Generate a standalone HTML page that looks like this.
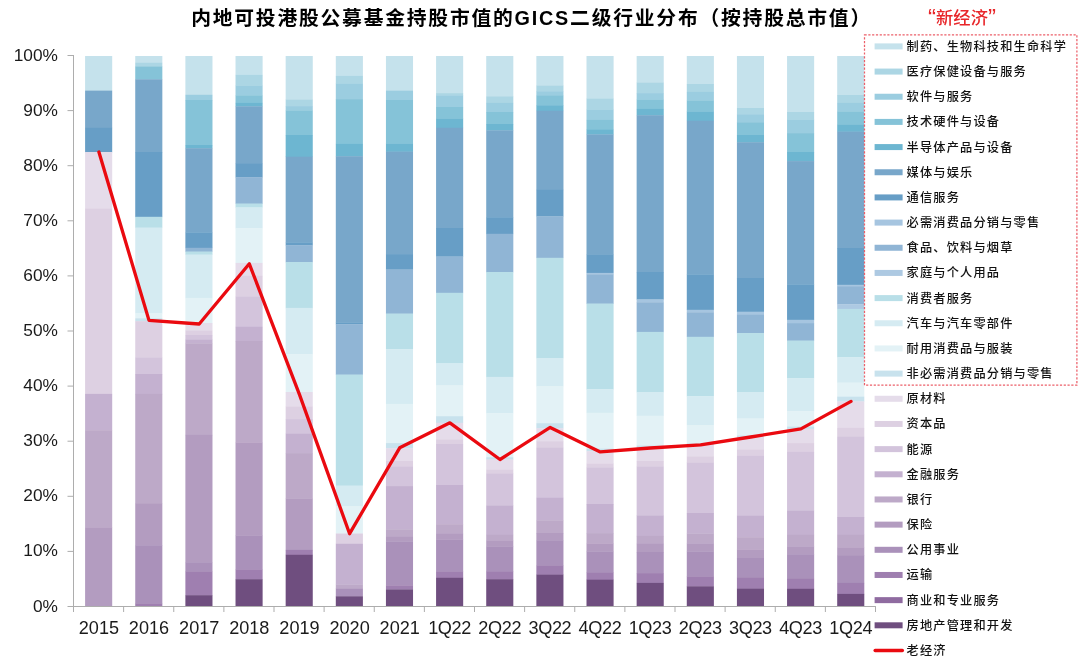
<!DOCTYPE html>
<html lang="zh-CN"><head><meta charset="utf-8">
<title>内地可投港股公募基金持股市值的GICS二级行业分布</title>
<style>
html,body{margin:0;padding:0;background:#fff;}
body{width:1080px;height:663px;overflow:hidden;}
svg{display:block;will-change:transform;}
text{font-family:'Liberation Sans','Noto Sans CJK SC',sans-serif;fill:#111;}
.t{font-size:19.8px;font-weight:bold;fill:#000;letter-spacing:1.78px;}
.ax{font-size:17.3px;fill:#1a1a1a;}
.xl{font-size:18.1px;fill:#1a1a1a;}
.lg{font-size:12.2px;font-weight:500;fill:#111;letter-spacing:1.2px;}
.ne{font-size:17.3px;font-weight:500;fill:#e8262a;}
</style></head><body>
<svg width="1080" height="663" viewBox="0 0 1080 663">
<text class="t" x="191.2" y="24.6">内地可投港股公募基金持股市值的GICS二级行业分布（按持股总市值）</text>
<g>
<rect x="85.10" y="56.00" width="27.10" height="34.90" fill="#c5e2ec"/>
<rect x="85.10" y="90.60" width="27.10" height="37.50" fill="#78a7ca"/>
<rect x="85.10" y="127.80" width="27.10" height="24.50" fill="#679ec6"/>
<rect x="85.10" y="152.00" width="27.10" height="57.00" fill="#e5dcea"/>
<rect x="85.10" y="208.70" width="27.10" height="185.50" fill="#ddd0e2"/>
<rect x="85.10" y="393.90" width="27.10" height="36.60" fill="#c4b1d0"/>
<rect x="85.10" y="430.20" width="27.10" height="97.70" fill="#bda9c8"/>
<rect x="85.10" y="527.60" width="27.10" height="78.70" fill="#b39cc0"/>
<rect x="135.24" y="56.00" width="27.10" height="7.10" fill="#c5e2ec"/>
<rect x="135.24" y="62.80" width="27.10" height="3.90" fill="#acd6e4"/>
<rect x="135.24" y="66.40" width="27.10" height="13.20" fill="#85c3d8"/>
<rect x="135.24" y="79.30" width="27.10" height="73.00" fill="#78a7ca"/>
<rect x="135.24" y="152.00" width="27.10" height="65.10" fill="#679ec6"/>
<rect x="135.24" y="216.80" width="27.10" height="11.10" fill="#b9dfe8"/>
<rect x="135.24" y="227.60" width="27.10" height="85.70" fill="#d5ebf2"/>
<rect x="135.24" y="313.00" width="27.10" height="5.60" fill="#e3f2f6"/>
<rect x="135.24" y="318.30" width="27.10" height="3.20" fill="#c8e2ed"/>
<rect x="135.24" y="321.20" width="27.10" height="36.70" fill="#ddd0e2"/>
<rect x="135.24" y="357.60" width="27.10" height="16.70" fill="#d3c4dc"/>
<rect x="135.24" y="374.00" width="27.10" height="20.20" fill="#c4b1d0"/>
<rect x="135.24" y="393.90" width="27.10" height="110.10" fill="#bda9c8"/>
<rect x="135.24" y="503.70" width="27.10" height="41.80" fill="#b39cc0"/>
<rect x="135.24" y="545.20" width="27.10" height="58.40" fill="#aa91ba"/>
<rect x="135.24" y="603.30" width="27.10" height="3.00" fill="#9f7fb0"/>
<rect x="185.38" y="56.00" width="27.10" height="39.10" fill="#c5e2ec"/>
<rect x="185.38" y="94.80" width="27.10" height="5.50" fill="#9bcde0"/>
<rect x="185.38" y="100.00" width="27.10" height="45.30" fill="#85c3d8"/>
<rect x="185.38" y="145.00" width="27.10" height="3.50" fill="#6db6d1"/>
<rect x="185.38" y="148.20" width="27.10" height="84.40" fill="#78a7ca"/>
<rect x="185.38" y="232.30" width="27.10" height="15.80" fill="#679ec6"/>
<rect x="185.38" y="247.80" width="27.10" height="4.10" fill="#90b5d5"/>
<rect x="185.38" y="251.60" width="27.10" height="3.30" fill="#b9dfe8"/>
<rect x="185.38" y="254.60" width="27.10" height="43.60" fill="#d5ebf2"/>
<rect x="185.38" y="297.90" width="27.10" height="25.40" fill="#e3f2f6"/>
<rect x="185.38" y="323.00" width="27.10" height="7.90" fill="#e5dcea"/>
<rect x="185.38" y="330.60" width="27.10" height="4.70" fill="#ddd0e2"/>
<rect x="185.38" y="335.00" width="27.10" height="4.80" fill="#d3c4dc"/>
<rect x="185.38" y="339.50" width="27.10" height="4.10" fill="#c4b1d0"/>
<rect x="185.38" y="343.30" width="27.10" height="91.90" fill="#bda9c8"/>
<rect x="185.38" y="434.90" width="27.10" height="127.60" fill="#b39cc0"/>
<rect x="185.38" y="562.20" width="27.10" height="9.70" fill="#aa91ba"/>
<rect x="185.38" y="571.60" width="27.10" height="23.90" fill="#9f7fb0"/>
<rect x="185.38" y="595.20" width="27.10" height="11.10" fill="#6f4e7f"/>
<rect x="235.52" y="56.00" width="27.10" height="19.20" fill="#c5e2ec"/>
<rect x="235.52" y="74.90" width="27.10" height="10.90" fill="#acd6e4"/>
<rect x="235.52" y="85.50" width="27.10" height="10.10" fill="#9bcde0"/>
<rect x="235.52" y="95.30" width="27.10" height="7.90" fill="#85c3d8"/>
<rect x="235.52" y="102.90" width="27.10" height="3.70" fill="#6db6d1"/>
<rect x="235.52" y="106.30" width="27.10" height="57.70" fill="#78a7ca"/>
<rect x="235.52" y="163.70" width="27.10" height="13.80" fill="#679ec6"/>
<rect x="235.52" y="177.20" width="27.10" height="26.70" fill="#90b5d5"/>
<rect x="235.52" y="203.60" width="27.10" height="4.10" fill="#b9dfe8"/>
<rect x="235.52" y="207.40" width="27.10" height="21.10" fill="#d5ebf2"/>
<rect x="235.52" y="228.20" width="27.10" height="35.00" fill="#e3f2f6"/>
<rect x="235.52" y="262.90" width="27.10" height="13.20" fill="#e5dcea"/>
<rect x="235.52" y="275.80" width="27.10" height="21.10" fill="#ddd0e2"/>
<rect x="235.52" y="296.60" width="27.10" height="30.50" fill="#d3c4dc"/>
<rect x="235.52" y="326.80" width="27.10" height="14.50" fill="#c4b1d0"/>
<rect x="235.52" y="341.00" width="27.10" height="101.80" fill="#bda9c8"/>
<rect x="235.52" y="442.50" width="27.10" height="93.10" fill="#b39cc0"/>
<rect x="235.52" y="535.30" width="27.10" height="34.30" fill="#aa91ba"/>
<rect x="235.52" y="569.30" width="27.10" height="10.20" fill="#9f7fb0"/>
<rect x="235.52" y="579.20" width="27.10" height="27.10" fill="#6f4e7f"/>
<rect x="285.66" y="56.00" width="27.10" height="43.80" fill="#c5e2ec"/>
<rect x="285.66" y="99.50" width="27.10" height="6.90" fill="#acd6e4"/>
<rect x="285.66" y="106.10" width="27.10" height="4.60" fill="#9bcde0"/>
<rect x="285.66" y="110.40" width="27.10" height="24.90" fill="#85c3d8"/>
<rect x="285.66" y="135.00" width="27.10" height="22.00" fill="#6db6d1"/>
<rect x="285.66" y="156.70" width="27.10" height="85.90" fill="#78a7ca"/>
<rect x="285.66" y="242.30" width="27.10" height="3.20" fill="#679ec6"/>
<rect x="285.66" y="245.20" width="27.10" height="17.10" fill="#90b5d5"/>
<rect x="285.66" y="262.00" width="27.10" height="46.20" fill="#b9dfe8"/>
<rect x="285.66" y="307.90" width="27.10" height="46.60" fill="#d5ebf2"/>
<rect x="285.66" y="354.20" width="27.10" height="38.10" fill="#e3f2f6"/>
<rect x="285.66" y="392.00" width="27.10" height="15.00" fill="#e5dcea"/>
<rect x="285.66" y="406.70" width="27.10" height="12.70" fill="#ddd0e2"/>
<rect x="285.66" y="419.10" width="27.10" height="14.80" fill="#d3c4dc"/>
<rect x="285.66" y="433.60" width="27.10" height="19.80" fill="#c4b1d0"/>
<rect x="285.66" y="453.10" width="27.10" height="45.60" fill="#bda9c8"/>
<rect x="285.66" y="498.40" width="27.10" height="51.80" fill="#b39cc0"/>
<rect x="285.66" y="549.90" width="27.10" height="5.20" fill="#9f7fb0"/>
<rect x="285.66" y="554.80" width="27.10" height="51.50" fill="#6f4e7f"/>
<rect x="335.80" y="56.00" width="27.10" height="20.20" fill="#c5e2ec"/>
<rect x="335.80" y="75.90" width="27.10" height="8.00" fill="#acd6e4"/>
<rect x="335.80" y="83.60" width="27.10" height="15.80" fill="#9bcde0"/>
<rect x="335.80" y="99.10" width="27.10" height="45.10" fill="#85c3d8"/>
<rect x="335.80" y="143.90" width="27.10" height="12.60" fill="#6db6d1"/>
<rect x="335.80" y="156.20" width="27.10" height="166.60" fill="#78a7ca"/>
<rect x="335.80" y="322.50" width="27.10" height="2.00" fill="#679ec6"/>
<rect x="335.80" y="324.20" width="27.10" height="50.70" fill="#90b5d5"/>
<rect x="335.80" y="374.60" width="27.10" height="111.30" fill="#b9dfe8"/>
<rect x="335.80" y="485.60" width="27.10" height="21.00" fill="#d5ebf2"/>
<rect x="335.80" y="506.30" width="27.10" height="27.50" fill="#e3f2f6"/>
<rect x="335.80" y="533.50" width="27.10" height="10.60" fill="#ddd0e2"/>
<rect x="335.80" y="543.80" width="27.10" height="40.90" fill="#c4b1d0"/>
<rect x="335.80" y="584.40" width="27.10" height="4.50" fill="#bda9c8"/>
<rect x="335.80" y="588.60" width="27.10" height="8.00" fill="#aa91ba"/>
<rect x="335.80" y="596.30" width="27.10" height="10.00" fill="#6f4e7f"/>
<rect x="385.94" y="56.00" width="27.10" height="34.90" fill="#c5e2ec"/>
<rect x="385.94" y="90.60" width="27.10" height="9.70" fill="#9bcde0"/>
<rect x="385.94" y="100.00" width="27.10" height="43.80" fill="#85c3d8"/>
<rect x="385.94" y="143.50" width="27.10" height="8.40" fill="#6db6d1"/>
<rect x="385.94" y="151.60" width="27.10" height="102.80" fill="#78a7ca"/>
<rect x="385.94" y="254.10" width="27.10" height="15.70" fill="#679ec6"/>
<rect x="385.94" y="269.50" width="27.10" height="44.40" fill="#90b5d5"/>
<rect x="385.94" y="313.60" width="27.10" height="35.80" fill="#b9dfe8"/>
<rect x="385.94" y="349.10" width="27.10" height="55.10" fill="#d5ebf2"/>
<rect x="385.94" y="403.90" width="27.10" height="39.50" fill="#e3f2f6"/>
<rect x="385.94" y="443.10" width="27.10" height="5.50" fill="#c8e2ed"/>
<rect x="385.94" y="448.30" width="27.10" height="13.00" fill="#e5dcea"/>
<rect x="385.94" y="461.00" width="27.10" height="6.00" fill="#ddd0e2"/>
<rect x="385.94" y="466.70" width="27.10" height="19.70" fill="#d3c4dc"/>
<rect x="385.94" y="486.10" width="27.10" height="43.50" fill="#c4b1d0"/>
<rect x="385.94" y="529.30" width="27.10" height="7.80" fill="#bda9c8"/>
<rect x="385.94" y="536.80" width="27.10" height="4.90" fill="#b39cc0"/>
<rect x="385.94" y="541.40" width="27.10" height="44.30" fill="#aa91ba"/>
<rect x="385.94" y="585.40" width="27.10" height="4.40" fill="#9f7fb0"/>
<rect x="385.94" y="589.50" width="27.10" height="16.80" fill="#6f4e7f"/>
<rect x="436.08" y="56.00" width="27.10" height="37.40" fill="#c5e2ec"/>
<rect x="436.08" y="93.10" width="27.10" height="2.50" fill="#acd6e4"/>
<rect x="436.08" y="95.30" width="27.10" height="12.00" fill="#9bcde0"/>
<rect x="436.08" y="107.00" width="27.10" height="11.70" fill="#85c3d8"/>
<rect x="436.08" y="118.40" width="27.10" height="9.70" fill="#6db6d1"/>
<rect x="436.08" y="127.80" width="27.10" height="100.50" fill="#78a7ca"/>
<rect x="436.08" y="228.00" width="27.10" height="28.80" fill="#679ec6"/>
<rect x="436.08" y="256.50" width="27.10" height="36.60" fill="#90b5d5"/>
<rect x="436.08" y="292.80" width="27.10" height="70.80" fill="#b9dfe8"/>
<rect x="436.08" y="363.30" width="27.10" height="22.40" fill="#d5ebf2"/>
<rect x="436.08" y="385.40" width="27.10" height="31.10" fill="#e3f2f6"/>
<rect x="436.08" y="416.20" width="27.10" height="6.90" fill="#c8e2ed"/>
<rect x="436.08" y="422.80" width="27.10" height="16.80" fill="#e5dcea"/>
<rect x="436.08" y="439.30" width="27.10" height="5.00" fill="#ddd0e2"/>
<rect x="436.08" y="444.00" width="27.10" height="41.30" fill="#d3c4dc"/>
<rect x="436.08" y="485.00" width="27.10" height="39.50" fill="#c4b1d0"/>
<rect x="436.08" y="524.20" width="27.10" height="9.90" fill="#bda9c8"/>
<rect x="436.08" y="533.80" width="27.10" height="6.00" fill="#b39cc0"/>
<rect x="436.08" y="539.50" width="27.10" height="32.40" fill="#aa91ba"/>
<rect x="436.08" y="571.60" width="27.10" height="6.50" fill="#9f7fb0"/>
<rect x="436.08" y="577.80" width="27.10" height="28.50" fill="#6f4e7f"/>
<rect x="486.22" y="56.00" width="27.10" height="40.60" fill="#c5e2ec"/>
<rect x="486.22" y="96.30" width="27.10" height="6.90" fill="#acd6e4"/>
<rect x="486.22" y="102.90" width="27.10" height="9.40" fill="#9bcde0"/>
<rect x="486.22" y="112.00" width="27.10" height="12.30" fill="#85c3d8"/>
<rect x="486.22" y="124.00" width="27.10" height="6.60" fill="#6db6d1"/>
<rect x="486.22" y="130.30" width="27.10" height="87.20" fill="#78a7ca"/>
<rect x="486.22" y="217.20" width="27.10" height="16.90" fill="#679ec6"/>
<rect x="486.22" y="233.80" width="27.10" height="38.50" fill="#90b5d5"/>
<rect x="486.22" y="272.00" width="27.10" height="105.20" fill="#b9dfe8"/>
<rect x="486.22" y="376.90" width="27.10" height="36.60" fill="#d5ebf2"/>
<rect x="486.22" y="413.20" width="27.10" height="44.30" fill="#e3f2f6"/>
<rect x="486.22" y="457.20" width="27.10" height="2.60" fill="#c8e2ed"/>
<rect x="486.22" y="459.50" width="27.10" height="10.30" fill="#e5dcea"/>
<rect x="486.22" y="469.50" width="27.10" height="4.10" fill="#ddd0e2"/>
<rect x="486.22" y="473.30" width="27.10" height="32.40" fill="#d3c4dc"/>
<rect x="486.22" y="505.40" width="27.10" height="29.70" fill="#c4b1d0"/>
<rect x="486.22" y="534.80" width="27.10" height="6.10" fill="#bda9c8"/>
<rect x="486.22" y="540.60" width="27.10" height="6.00" fill="#b39cc0"/>
<rect x="486.22" y="546.30" width="27.10" height="25.20" fill="#aa91ba"/>
<rect x="486.22" y="571.20" width="27.10" height="8.30" fill="#9f7fb0"/>
<rect x="486.22" y="579.20" width="27.10" height="27.10" fill="#6f4e7f"/>
<rect x="536.36" y="56.00" width="27.10" height="29.80" fill="#c5e2ec"/>
<rect x="536.36" y="85.50" width="27.10" height="6.00" fill="#acd6e4"/>
<rect x="536.36" y="91.20" width="27.10" height="4.80" fill="#9bcde0"/>
<rect x="536.36" y="95.70" width="27.10" height="9.80" fill="#85c3d8"/>
<rect x="536.36" y="105.20" width="27.10" height="5.90" fill="#6db6d1"/>
<rect x="536.36" y="110.80" width="27.10" height="79.30" fill="#78a7ca"/>
<rect x="536.36" y="189.80" width="27.10" height="26.80" fill="#679ec6"/>
<rect x="536.36" y="216.30" width="27.10" height="41.80" fill="#90b5d5"/>
<rect x="536.36" y="257.80" width="27.10" height="100.50" fill="#b9dfe8"/>
<rect x="536.36" y="358.00" width="27.10" height="28.60" fill="#d5ebf2"/>
<rect x="536.36" y="386.30" width="27.10" height="37.20" fill="#e3f2f6"/>
<rect x="536.36" y="423.20" width="27.10" height="5.40" fill="#c8e2ed"/>
<rect x="536.36" y="428.30" width="27.10" height="13.20" fill="#e5dcea"/>
<rect x="536.36" y="441.20" width="27.10" height="6.90" fill="#ddd0e2"/>
<rect x="536.36" y="447.80" width="27.10" height="50.30" fill="#d3c4dc"/>
<rect x="536.36" y="497.80" width="27.10" height="22.80" fill="#c4b1d0"/>
<rect x="536.36" y="520.30" width="27.10" height="13.00" fill="#bda9c8"/>
<rect x="536.36" y="533.00" width="27.10" height="7.90" fill="#b39cc0"/>
<rect x="536.36" y="540.60" width="27.10" height="25.30" fill="#aa91ba"/>
<rect x="536.36" y="565.60" width="27.10" height="9.30" fill="#9f7fb0"/>
<rect x="536.36" y="574.60" width="27.10" height="31.70" fill="#6f4e7f"/>
<rect x="586.50" y="56.00" width="27.10" height="43.00" fill="#c5e2ec"/>
<rect x="586.50" y="98.70" width="27.10" height="11.10" fill="#acd6e4"/>
<rect x="586.50" y="109.50" width="27.10" height="10.70" fill="#9bcde0"/>
<rect x="586.50" y="119.90" width="27.10" height="10.10" fill="#85c3d8"/>
<rect x="586.50" y="129.70" width="27.10" height="5.00" fill="#6db6d1"/>
<rect x="586.50" y="134.40" width="27.10" height="120.50" fill="#78a7ca"/>
<rect x="586.50" y="254.60" width="27.10" height="18.60" fill="#679ec6"/>
<rect x="586.50" y="272.90" width="27.10" height="1.70" fill="#a6c5e0"/>
<rect x="586.50" y="274.30" width="27.10" height="29.60" fill="#90b5d5"/>
<rect x="586.50" y="303.60" width="27.10" height="85.90" fill="#b9dfe8"/>
<rect x="586.50" y="389.20" width="27.10" height="23.90" fill="#d5ebf2"/>
<rect x="586.50" y="412.80" width="27.10" height="36.20" fill="#e3f2f6"/>
<rect x="586.50" y="448.70" width="27.10" height="2.80" fill="#c8e2ed"/>
<rect x="586.50" y="451.20" width="27.10" height="12.60" fill="#e5dcea"/>
<rect x="586.50" y="463.50" width="27.10" height="4.40" fill="#ddd0e2"/>
<rect x="586.50" y="467.60" width="27.10" height="36.70" fill="#d3c4dc"/>
<rect x="586.50" y="504.00" width="27.10" height="29.40" fill="#c4b1d0"/>
<rect x="586.50" y="533.10" width="27.10" height="10.70" fill="#bda9c8"/>
<rect x="586.50" y="543.50" width="27.10" height="8.20" fill="#b39cc0"/>
<rect x="586.50" y="551.40" width="27.10" height="21.10" fill="#aa91ba"/>
<rect x="586.50" y="572.20" width="27.10" height="7.80" fill="#9f7fb0"/>
<rect x="586.50" y="579.70" width="27.10" height="26.60" fill="#6f4e7f"/>
<rect x="636.64" y="56.00" width="27.10" height="26.80" fill="#c5e2ec"/>
<rect x="636.64" y="82.50" width="27.10" height="10.90" fill="#acd6e4"/>
<rect x="636.64" y="93.10" width="27.10" height="6.70" fill="#9bcde0"/>
<rect x="636.64" y="99.50" width="27.10" height="9.70" fill="#85c3d8"/>
<rect x="636.64" y="108.90" width="27.10" height="6.60" fill="#6db6d1"/>
<rect x="636.64" y="115.20" width="27.10" height="157.10" fill="#78a7ca"/>
<rect x="636.64" y="272.00" width="27.10" height="27.70" fill="#679ec6"/>
<rect x="636.64" y="299.40" width="27.10" height="3.20" fill="#a6c5e0"/>
<rect x="636.64" y="302.30" width="27.10" height="29.90" fill="#90b5d5"/>
<rect x="636.64" y="331.90" width="27.10" height="60.40" fill="#b9dfe8"/>
<rect x="636.64" y="392.00" width="27.10" height="24.00" fill="#d5ebf2"/>
<rect x="636.64" y="415.70" width="27.10" height="30.20" fill="#e3f2f6"/>
<rect x="636.64" y="445.60" width="27.10" height="2.60" fill="#c8e2ed"/>
<rect x="636.64" y="447.90" width="27.10" height="13.40" fill="#e5dcea"/>
<rect x="636.64" y="461.00" width="27.10" height="5.90" fill="#ddd0e2"/>
<rect x="636.64" y="466.60" width="27.10" height="49.10" fill="#d3c4dc"/>
<rect x="636.64" y="515.40" width="27.10" height="20.80" fill="#c4b1d0"/>
<rect x="636.64" y="535.90" width="27.10" height="8.20" fill="#bda9c8"/>
<rect x="636.64" y="543.80" width="27.10" height="8.50" fill="#b39cc0"/>
<rect x="636.64" y="552.00" width="27.10" height="21.40" fill="#aa91ba"/>
<rect x="636.64" y="573.10" width="27.10" height="10.10" fill="#9f7fb0"/>
<rect x="636.64" y="582.90" width="27.10" height="23.40" fill="#6f4e7f"/>
<rect x="686.78" y="56.00" width="27.10" height="28.30" fill="#c5e2ec"/>
<rect x="686.78" y="84.00" width="27.10" height="8.20" fill="#acd6e4"/>
<rect x="686.78" y="91.90" width="27.10" height="8.80" fill="#9bcde0"/>
<rect x="686.78" y="100.40" width="27.10" height="11.30" fill="#85c3d8"/>
<rect x="686.78" y="111.40" width="27.10" height="9.70" fill="#6db6d1"/>
<rect x="686.78" y="120.80" width="27.10" height="153.80" fill="#78a7ca"/>
<rect x="686.78" y="274.30" width="27.10" height="35.80" fill="#679ec6"/>
<rect x="686.78" y="309.80" width="27.10" height="2.80" fill="#a6c5e0"/>
<rect x="686.78" y="312.30" width="27.10" height="24.80" fill="#90b5d5"/>
<rect x="686.78" y="336.80" width="27.10" height="59.70" fill="#b9dfe8"/>
<rect x="686.78" y="396.20" width="27.10" height="29.20" fill="#d5ebf2"/>
<rect x="686.78" y="425.10" width="27.10" height="18.70" fill="#e3f2f6"/>
<rect x="686.78" y="443.50" width="27.10" height="1.70" fill="#c8e2ed"/>
<rect x="686.78" y="444.90" width="27.10" height="11.70" fill="#e5dcea"/>
<rect x="686.78" y="456.30" width="27.10" height="6.50" fill="#ddd0e2"/>
<rect x="686.78" y="462.50" width="27.10" height="50.80" fill="#d3c4dc"/>
<rect x="686.78" y="513.00" width="27.10" height="20.70" fill="#c4b1d0"/>
<rect x="686.78" y="533.40" width="27.10" height="10.20" fill="#bda9c8"/>
<rect x="686.78" y="543.30" width="27.10" height="8.40" fill="#b39cc0"/>
<rect x="686.78" y="551.40" width="27.10" height="25.20" fill="#aa91ba"/>
<rect x="686.78" y="576.30" width="27.10" height="10.30" fill="#9f7fb0"/>
<rect x="686.78" y="586.30" width="27.10" height="20.00" fill="#6f4e7f"/>
<rect x="736.92" y="56.00" width="27.10" height="52.30" fill="#c5e2ec"/>
<rect x="736.92" y="108.00" width="27.10" height="6.50" fill="#acd6e4"/>
<rect x="736.92" y="114.20" width="27.10" height="8.30" fill="#9bcde0"/>
<rect x="736.92" y="122.20" width="27.10" height="13.10" fill="#85c3d8"/>
<rect x="736.92" y="135.00" width="27.10" height="7.50" fill="#6db6d1"/>
<rect x="736.92" y="142.20" width="27.10" height="136.10" fill="#78a7ca"/>
<rect x="736.92" y="278.00" width="27.10" height="34.00" fill="#679ec6"/>
<rect x="736.92" y="311.70" width="27.10" height="3.20" fill="#a6c5e0"/>
<rect x="736.92" y="314.60" width="27.10" height="18.80" fill="#90b5d5"/>
<rect x="736.92" y="333.10" width="27.10" height="59.20" fill="#b9dfe8"/>
<rect x="736.92" y="392.00" width="27.10" height="26.80" fill="#d5ebf2"/>
<rect x="736.92" y="418.50" width="27.10" height="17.30" fill="#e3f2f6"/>
<rect x="736.92" y="435.50" width="27.10" height="1.80" fill="#c8e2ed"/>
<rect x="736.92" y="437.00" width="27.10" height="13.00" fill="#e5dcea"/>
<rect x="736.92" y="449.70" width="27.10" height="6.50" fill="#ddd0e2"/>
<rect x="736.92" y="455.90" width="27.10" height="60.00" fill="#d3c4dc"/>
<rect x="736.92" y="515.60" width="27.10" height="21.90" fill="#c4b1d0"/>
<rect x="736.92" y="537.20" width="27.10" height="12.60" fill="#bda9c8"/>
<rect x="736.92" y="549.50" width="27.10" height="8.80" fill="#b39cc0"/>
<rect x="736.92" y="558.00" width="27.10" height="20.10" fill="#aa91ba"/>
<rect x="736.92" y="577.80" width="27.10" height="11.10" fill="#9f7fb0"/>
<rect x="736.92" y="588.60" width="27.10" height="17.70" fill="#6f4e7f"/>
<rect x="787.06" y="56.00" width="27.10" height="56.30" fill="#c5e2ec"/>
<rect x="787.06" y="112.00" width="27.10" height="7.80" fill="#acd6e4"/>
<rect x="787.06" y="119.50" width="27.10" height="13.90" fill="#9bcde0"/>
<rect x="787.06" y="133.10" width="27.10" height="19.20" fill="#85c3d8"/>
<rect x="787.06" y="152.00" width="27.10" height="9.40" fill="#6db6d1"/>
<rect x="787.06" y="161.10" width="27.10" height="123.50" fill="#78a7ca"/>
<rect x="787.06" y="284.30" width="27.10" height="35.80" fill="#679ec6"/>
<rect x="787.06" y="319.80" width="27.10" height="3.60" fill="#a6c5e0"/>
<rect x="787.06" y="323.10" width="27.10" height="17.80" fill="#90b5d5"/>
<rect x="787.06" y="340.60" width="27.10" height="37.90" fill="#b9dfe8"/>
<rect x="787.06" y="378.20" width="27.10" height="33.30" fill="#d5ebf2"/>
<rect x="787.06" y="411.20" width="27.10" height="15.70" fill="#e3f2f6"/>
<rect x="787.06" y="426.60" width="27.10" height="2.60" fill="#c8e2ed"/>
<rect x="787.06" y="428.90" width="27.10" height="14.50" fill="#e5dcea"/>
<rect x="787.06" y="443.10" width="27.10" height="9.10" fill="#ddd0e2"/>
<rect x="787.06" y="451.90" width="27.10" height="58.90" fill="#d3c4dc"/>
<rect x="787.06" y="510.50" width="27.10" height="24.60" fill="#c4b1d0"/>
<rect x="787.06" y="534.80" width="27.10" height="11.80" fill="#bda9c8"/>
<rect x="787.06" y="546.30" width="27.10" height="8.20" fill="#b39cc0"/>
<rect x="787.06" y="554.20" width="27.10" height="24.90" fill="#aa91ba"/>
<rect x="787.06" y="578.80" width="27.10" height="10.30" fill="#9f7fb0"/>
<rect x="787.06" y="588.80" width="27.10" height="17.50" fill="#6f4e7f"/>
<rect x="837.20" y="56.00" width="27.10" height="39.30" fill="#c5e2ec"/>
<rect x="837.20" y="95.00" width="27.10" height="8.20" fill="#acd6e4"/>
<rect x="837.20" y="102.90" width="27.10" height="8.80" fill="#9bcde0"/>
<rect x="837.20" y="111.40" width="27.10" height="13.50" fill="#85c3d8"/>
<rect x="837.20" y="124.60" width="27.10" height="7.30" fill="#6db6d1"/>
<rect x="837.20" y="131.60" width="27.10" height="116.70" fill="#78a7ca"/>
<rect x="837.20" y="248.00" width="27.10" height="37.10" fill="#679ec6"/>
<rect x="837.20" y="284.80" width="27.10" height="1.70" fill="#a6c5e0"/>
<rect x="837.20" y="286.20" width="27.10" height="18.30" fill="#90b5d5"/>
<rect x="837.20" y="304.20" width="27.10" height="5.00" fill="#adc9e2"/>
<rect x="837.20" y="308.90" width="27.10" height="48.50" fill="#b9dfe8"/>
<rect x="837.20" y="357.10" width="27.10" height="25.80" fill="#d5ebf2"/>
<rect x="837.20" y="382.60" width="27.10" height="14.40" fill="#e3f2f6"/>
<rect x="837.20" y="396.70" width="27.10" height="5.00" fill="#c8e2ed"/>
<rect x="837.20" y="401.40" width="27.10" height="26.80" fill="#e5dcea"/>
<rect x="837.20" y="427.90" width="27.10" height="9.20" fill="#ddd0e2"/>
<rect x="837.20" y="436.80" width="27.10" height="80.50" fill="#d3c4dc"/>
<rect x="837.20" y="517.00" width="27.10" height="18.10" fill="#c4b1d0"/>
<rect x="837.20" y="534.80" width="27.10" height="13.10" fill="#bda9c8"/>
<rect x="837.20" y="547.60" width="27.10" height="8.40" fill="#b39cc0"/>
<rect x="837.20" y="555.70" width="27.10" height="27.50" fill="#aa91ba"/>
<rect x="837.20" y="582.90" width="27.10" height="11.30" fill="#9f7fb0"/>
<rect x="837.20" y="593.90" width="27.10" height="12.40" fill="#6f4e7f"/>
</g>
<g stroke="#adadad" stroke-width="1" fill="none">
<path d="M73.5 55.0V612.0"/>
<path d="M67.5 606.5H875.9"/>
<path d="M67.5 551.40H73.5"/>
<path d="M67.5 496.30H73.5"/>
<path d="M67.5 441.20H73.5"/>
<path d="M67.5 386.10H73.5"/>
<path d="M67.5 331.00H73.5"/>
<path d="M67.5 275.90H73.5"/>
<path d="M67.5 220.80H73.5"/>
<path d="M67.5 165.70H73.5"/>
<path d="M67.5 110.60H73.5"/>
<path d="M67.5 55.50H73.5"/>
<path d="M123.62 606.5V612.0"/>
<path d="M173.75 606.5V612.0"/>
<path d="M223.88 606.5V612.0"/>
<path d="M274.00 606.5V612.0"/>
<path d="M324.12 606.5V612.0"/>
<path d="M374.25 606.5V612.0"/>
<path d="M424.38 606.5V612.0"/>
<path d="M474.50 606.5V612.0"/>
<path d="M524.62 606.5V612.0"/>
<path d="M574.75 606.5V612.0"/>
<path d="M624.88 606.5V612.0"/>
<path d="M675.00 606.5V612.0"/>
<path d="M725.12 606.5V612.0"/>
<path d="M775.25 606.5V612.0"/>
<path d="M825.38 606.5V612.0"/>
<path d="M875.50 606.5V612.0"/>
</g>
<text class="ax" text-anchor="end" x="57.9" y="611.5">0%</text>
<text class="ax" text-anchor="end" x="57.9" y="556.4">10%</text>
<text class="ax" text-anchor="end" x="57.9" y="501.3">20%</text>
<text class="ax" text-anchor="end" x="57.9" y="446.2">30%</text>
<text class="ax" text-anchor="end" x="57.9" y="391.1">40%</text>
<text class="ax" text-anchor="end" x="57.9" y="336.0">50%</text>
<text class="ax" text-anchor="end" x="57.9" y="280.9">60%</text>
<text class="ax" text-anchor="end" x="57.9" y="225.8">70%</text>
<text class="ax" text-anchor="end" x="57.9" y="170.7">80%</text>
<text class="ax" text-anchor="end" x="57.9" y="115.6">90%</text>
<text class="ax" text-anchor="end" x="57.9" y="60.5">100%</text>
<text class="xl" text-anchor="middle" x="98.9" y="633.6">2015</text>
<text class="xl" text-anchor="middle" x="149.0" y="633.6">2016</text>
<text class="xl" text-anchor="middle" x="199.2" y="633.6">2017</text>
<text class="xl" text-anchor="middle" x="249.3" y="633.6">2018</text>
<text class="xl" text-anchor="middle" x="299.5" y="633.6">2019</text>
<text class="xl" text-anchor="middle" x="349.6" y="633.6">2020</text>
<text class="xl" text-anchor="middle" x="399.7" y="633.6">2021</text>
<text class="xl" text-anchor="middle" letter-spacing="-0.35" x="449.6" y="633.6">1Q22</text>
<text class="xl" text-anchor="middle" letter-spacing="-0.35" x="499.7" y="633.6">2Q22</text>
<text class="xl" text-anchor="middle" letter-spacing="-0.35" x="549.9" y="633.6">3Q22</text>
<text class="xl" text-anchor="middle" letter-spacing="-0.35" x="600.0" y="633.6">4Q22</text>
<text class="xl" text-anchor="middle" letter-spacing="-0.35" x="650.1" y="633.6">1Q23</text>
<text class="xl" text-anchor="middle" letter-spacing="-0.35" x="700.3" y="633.6">2Q23</text>
<text class="xl" text-anchor="middle" letter-spacing="-0.35" x="750.4" y="633.6">3Q23</text>
<text class="xl" text-anchor="middle" letter-spacing="-0.35" x="800.6" y="633.6">4Q23</text>
<text class="xl" text-anchor="middle" letter-spacing="-0.35" x="850.7" y="633.6">1Q24</text>
<polyline points="98.9,152.0 149.0,320.4 199.2,324.0 249.3,263.8 299.5,394.6 349.6,533.7 399.7,447.8 449.9,422.8 500.0,459.5 550.2,427.4 600.3,451.9 650.4,448.0 700.6,444.9 750.7,437.0 800.9,428.9 851.0,401.4" fill="none" stroke="#ea0a10" stroke-width="3.3" stroke-linejoin="round" stroke-linecap="round"/>
<text class="ne" text-anchor="middle" x="962" y="24.3"><tspan font-size="24" font-weight="400" dy="1.2">“</tspan><tspan dy="-1.2">新经济</tspan><tspan font-size="24" font-weight="400" dy="1.2">”</tspan></text>
<rect x="864.5" y="34.8" width="212.4" height="350.4" fill="#fff" fill-opacity="0" stroke="#ec5f69" stroke-width="1.25" stroke-dasharray="2.2 1.6"/>
<rect x="874.6" y="43.40" width="28" height="6" fill="#c5e2ec"/>
<text class="lg" x="906.5" y="50.90">制药、生物科技和生命科学</text>
<rect x="874.6" y="68.57" width="28" height="6" fill="#acd6e4"/>
<text class="lg" x="906.5" y="76.07">医疗保健设备与服务</text>
<rect x="874.6" y="93.74" width="28" height="6" fill="#9bcde0"/>
<text class="lg" x="906.5" y="101.24">软件与服务</text>
<rect x="874.6" y="118.91" width="28" height="6" fill="#85c3d8"/>
<text class="lg" x="906.5" y="126.41">技术硬件与设备</text>
<rect x="874.6" y="144.08" width="28" height="6" fill="#6db6d1"/>
<text class="lg" x="906.5" y="151.58">半导体产品与设备</text>
<rect x="874.6" y="169.25" width="28" height="6" fill="#78a7ca"/>
<text class="lg" x="906.5" y="176.75">媒体与娱乐</text>
<rect x="874.6" y="194.42" width="28" height="6" fill="#679ec6"/>
<text class="lg" x="906.5" y="201.92">通信服务</text>
<rect x="874.6" y="219.59" width="28" height="6" fill="#a6c5e0"/>
<text class="lg" x="906.5" y="227.09">必需消费品分销与零售</text>
<rect x="874.6" y="244.76" width="28" height="6" fill="#90b5d5"/>
<text class="lg" x="906.5" y="252.26">食品、饮料与烟草</text>
<rect x="874.6" y="269.93" width="28" height="6" fill="#adc9e2"/>
<text class="lg" x="906.5" y="277.43">家庭与个人用品</text>
<rect x="874.6" y="295.10" width="28" height="6" fill="#b9dfe8"/>
<text class="lg" x="906.5" y="302.60">消费者服务</text>
<rect x="874.6" y="320.27" width="28" height="6" fill="#d5ebf2"/>
<text class="lg" x="906.5" y="327.77">汽车与汽车零部件</text>
<rect x="874.6" y="345.44" width="28" height="6" fill="#e3f2f6"/>
<text class="lg" x="906.5" y="352.94">耐用消费品与服装</text>
<rect x="874.6" y="370.61" width="28" height="6" fill="#c8e2ed"/>
<text class="lg" x="906.5" y="378.11">非必需消费品分销与零售</text>
<rect x="874.6" y="395.78" width="28" height="6" fill="#e5dcea"/>
<text class="lg" x="906.5" y="403.28">原材料</text>
<rect x="874.6" y="420.95" width="28" height="6" fill="#ddd0e2"/>
<text class="lg" x="906.5" y="428.45">资本品</text>
<rect x="874.6" y="446.12" width="28" height="6" fill="#d3c4dc"/>
<text class="lg" x="906.5" y="453.62">能源</text>
<rect x="874.6" y="471.29" width="28" height="6" fill="#c4b1d0"/>
<text class="lg" x="906.5" y="478.79">金融服务</text>
<rect x="874.6" y="496.46" width="28" height="6" fill="#bda9c8"/>
<text class="lg" x="906.5" y="503.96">银行</text>
<rect x="874.6" y="521.63" width="28" height="6" fill="#b39cc0"/>
<text class="lg" x="906.5" y="529.13">保险</text>
<rect x="874.6" y="546.80" width="28" height="6" fill="#aa91ba"/>
<text class="lg" x="906.5" y="554.30">公用事业</text>
<rect x="874.6" y="571.97" width="28" height="6" fill="#9f7fb0"/>
<text class="lg" x="906.5" y="579.47">运输</text>
<rect x="874.6" y="597.14" width="28" height="6" fill="#8f6ba0"/>
<text class="lg" x="906.5" y="604.64">商业和专业服务</text>
<rect x="874.6" y="622.31" width="28" height="6" fill="#6f4e7f"/>
<text class="lg" x="906.5" y="629.81">房地产管理和开发</text>
<path d="M875.1 650.48H902.4" stroke="#ea0a10" stroke-width="3.3" stroke-linecap="round" fill="none"/>
<text class="lg" x="906.5" y="654.98">老经济</text>
</svg></body></html>
